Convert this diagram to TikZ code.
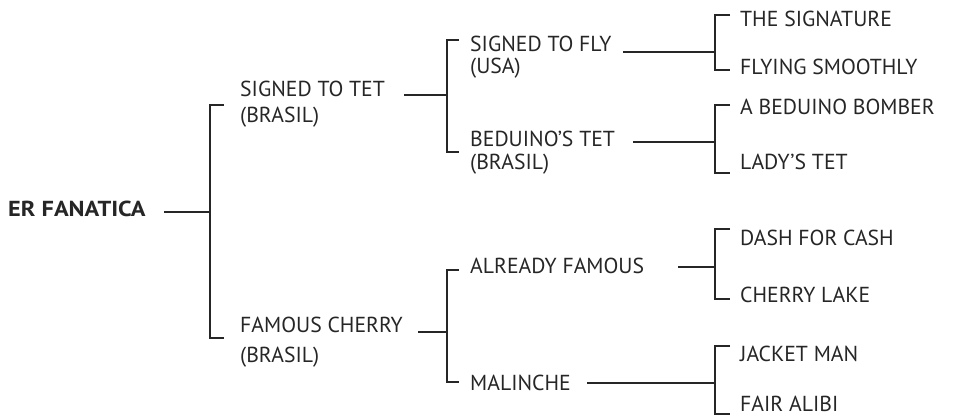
\documentclass[tikz,border=0pt]{standalone}
\usepackage{fontspec}
\setmainfont{PT Sans}
\newfontfamily\widebold{PT Sans}[FakeStretch=1.12]
\begin{document}
\begin{tikzpicture}[x=1pt, y=-1pt,
    horse/.style={anchor=base west, inner sep=0pt, align=left, text=black!85,
        font=\fontsize{21.7}{26}\selectfont},
    ped/.style={line width=2.3pt, black!85}]
    \useasboundingbox (0,0) rectangle (962,417);

    % Draw the horses, generation by generation
    \node[horse, font=\fontsize{21.7}{26}\widebold\bfseries] (fanatica) at (8,217) {ER FANATICA};

    \node[horse] (tet) at (240,123) {SIGNED TO TET\\[0pt](BRASIL)};
    \node[horse] (cherry) at (240,362) {FAMOUS CHERRY\\[4pt](BRASIL)};

    \node[horse] (fly) at (470,74) {SIGNED TO FLY\\[-4pt](USA)};
    \node[horse] (beduino) at (470,170) {BEDUINO'S TET\\[-3pt](BRASIL)};
    \node[horse] (famous) at (470,273) {ALREADY FAMOUS};
    \node[horse] (malinche) at (470,390) {MALINCHE};

    \node[horse] (signature) at (740,27) {THE SIGNATURE};
    \node[horse] (smoothly) at (740,75) {FLYING SMOOTHLY};
    \node[horse] (bomber) at (740,115) {A BEDUINO BOMBER};
    \node[horse] (lady) at (740,170) {LADY'S TET};
    \node[horse] (dash) at (740,245) {DASH FOR CASH};
    \node[horse] (lake) at (740,302) {CHERRY LAKE};
    \node[horse] (jacket) at (740,361) {JACKET MAN};
    \node[horse, text depth=0pt] (alibi) at (740,411) {FAIR ALIBI};

    % Where the lines leave each horse
    \coordinate (fanatica-out) at (164,212);
    \coordinate (tet-out) at (404,95);
    \coordinate (cherry-out) at (418,332);
    \coordinate (fly-out) at (623,52);
    \coordinate (beduino-out) at (633,142);
    \coordinate (famous-out) at (678,267);
    \coordinate (malinche-out) at (587,383);

    % The joints of the brackets
    \coordinate (fanatica-j) at (210,212);
    \coordinate (tet-j) at (447,95);
    \coordinate (cherry-j) at (447,332);
    \coordinate (fly-j) at (715,52);
    \coordinate (beduino-j) at (715,142);
    \coordinate (famous-j) at (715,267);
    \coordinate (malinche-j) at (715,383);

    % Draw the lines from each horse to its bracket
    \draw[ped] (fanatica-out) -- (fanatica-j);
    \draw[ped] (tet-out) -- (tet-j);
    \draw[ped] (cherry-out) -- (cherry-j);
    \draw[ped] (fly-out) -- (fly-j);
    \draw[ped] (beduino-out) -- (beduino-j);
    \draw[ped] (famous-out) -- (famous-j);
    \draw[ped] (malinche-out) -- (malinche-j);

    % Draw the brackets to sire and dam
    \draw[ped] (224,105) -| (fanatica-j) |- (224,338);
    \draw[ped] (459,40) -| (tet-j) |- (459,152);
    \draw[ped] (459,270) -| (cherry-j) |- (459,382);
    \draw[ped] (730,15) -| (fly-j) |- (730,70);
    \draw[ped] (730,105) -| (beduino-j) |- (730,173);
    \draw[ped] (730,229) -| (famous-j) |- (730,299);
    \draw[ped] (730,346) -| (malinche-j) |- (730,414);

\end{tikzpicture}
\end{document}
